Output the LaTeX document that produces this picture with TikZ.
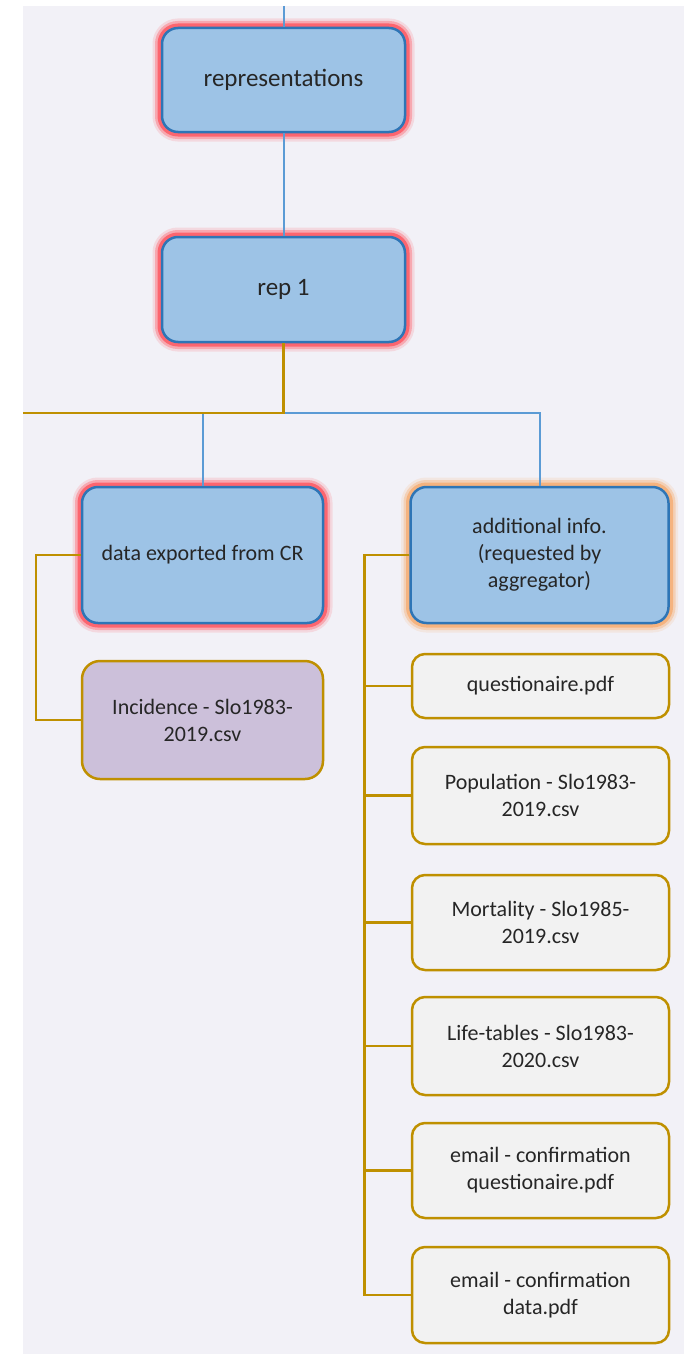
\documentclass[tikz,border=0pt]{standalone}
\usepackage{fontspec}
\setmainfont{Carlito}
\definecolor{boxblue}{HTML}{9DC3E6}
\definecolor{edgeblue}{HTML}{2E75B6}
\definecolor{lineblue}{HTML}{5B9BD5}
\definecolor{gold}{HTML}{BF9000}
\definecolor{filegrey}{HTML}{F2F2F2}
\definecolor{lilac}{HTML}{CCC0DA}
\definecolor{glowred}{HTML}{FF4F5A}
\definecolor{gloworange}{HTML}{F7A868}
\definecolor{paper}{HTML}{F2F1F7}
\tikzset{
  folder/.style={rectangle, rounded corners=16pt, draw=edgeblue, line width=2.5pt,
    fill=boxblue, align=center, text=black!85, inner sep=0pt},
  redglow/.style={preaction={draw=glowred, line width=19pt, draw opacity=.15},
    preaction={draw=glowred, line width=14pt, draw opacity=.35},
    preaction={draw=glowred, line width=9pt, draw opacity=.75}},
  orangeglow/.style={preaction={draw=gloworange, line width=19pt, draw opacity=.15},
    preaction={draw=gloworange, line width=14pt, draw opacity=.35},
    preaction={draw=gloworange, line width=9pt, draw opacity=.7}},
  filebox/.style={rectangle, rounded corners=13pt, draw=gold, line width=2.5pt,
    fill=filegrey, align=center, text=black!85, inner sep=0pt,
    minimum width=257pt, font=\fontsize{22}{27}\selectfont},
  blueline/.style={draw=lineblue, line width=2pt},
  goldline/.style={draw=gold, line width=2.5pt},
}
\begin{document}
\begin{tikzpicture}[x=1pt, y=-1pt]
		%%Start of figure
			\useasboundingbox (0, 0) rectangle (684, 1354);
			\fill[paper] (23, 6) rectangle (684, 1354);
			\coordinate (top) at (283.5, 6);
			\coordinate (fork) at (283.5, 413);
			\coordinate (leftend) at (23, 413);

			%folders%
			\node[folder, redglow, minimum width=243pt, minimum height=104pt,
			  font=\fontsize{25}{30}\selectfont] (rep) at (283.5, 80) {representations};
			\node[folder, redglow, minimum width=243pt, minimum height=105pt,
			  font=\fontsize{25}{30}\selectfont] (rep1) at (283.5, 289.5) {rep 1};
			\node[folder, redglow, minimum width=241pt, minimum height=136pt,
			  font=\fontsize{22}{27}\selectfont] (cr) at (202.5, 555) {data exported from CR};
			\node[folder, orangeglow, minimum width=258pt, minimum height=136pt,
			  font=\fontsize{22}{27}\selectfont] (extra) at (539.5, 555)
			  {additional info.\\(requested by\\aggregator)};

			%files%
			\node[filebox, fill=lilac, rounded corners=18pt, minimum width=241pt,
			  minimum height=118pt] (incid) at (202.5, 720) {Incidence - Slo1983-\\2019.csv};
			\node[filebox, minimum height=64pt] (quest) at (540.5, 686) {questionaire.pdf};
			\node[filebox, minimum height=97pt] (popul) at (540.5, 795.5) {Population - Slo1983-\\2019.csv};
			\node[filebox, minimum height=95pt] (mort) at (540.5, 922.5) {Mortality - Slo1985-\\2019.csv};
			\node[filebox, minimum height=98pt] (life) at (540.5, 1046) {Life-tables - Slo1983-\\2020.csv};
			\node[filebox, minimum height=95pt] (mailq) at (540.5, 1170.5) {email - confirmation\\questionaire.pdf};
			\node[filebox, minimum height=96pt] (maild) at (540.5, 1295) {email - confirmation\\data.pdf};

			%lines%
			\draw[blueline] (top) to (rep.north);
			\draw[blueline] (rep.south) to (rep1.north);
			\draw[blueline] (fork) -| (cr.north);
			\draw[blueline] (fork) -| (extra.north);
			\draw[goldline] (rep1.south) |- (leftend);

			\draw[goldline] (cr.west) -- ++(-45, 0) |- (incid.west);
			\draw[goldline] (extra.west) -- ++(-45, 0) |- (quest.west);
			\draw[goldline] (extra.west) -- ++(-45, 0) |- (popul.west);
			\draw[goldline] (extra.west) -- ++(-45, 0) |- (mort.west);
			\draw[goldline] (extra.west) -- ++(-45, 0) |- (life.west);
			\draw[goldline] (extra.west) -- ++(-45, 0) |- (mailq.west);
			\draw[goldline] (extra.west) -- ++(-45, 0) |- (maild.west);
		\end{tikzpicture}
\end{document}
